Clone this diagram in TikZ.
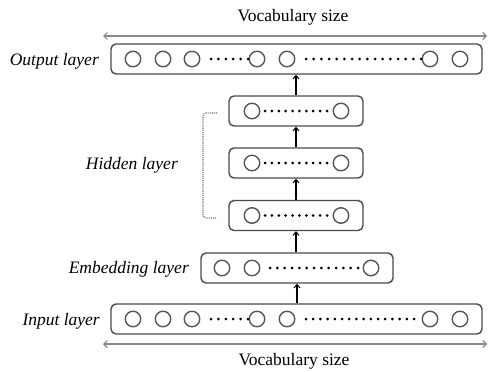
\documentclass[tikz,border=0pt]{standalone}
\usepackage{fontspec}
\setmainfont{Liberation Serif}
\usetikzlibrary{arrows.meta}
\definecolor{boxc}{HTML}{4A4A4A}
\definecolor{unitc}{HTML}{555555}
\definecolor{vocc}{HTML}{8A8A8A}
\definecolor{brc}{HTML}{707070}
\tikzset{
  layerbox/.style={draw=boxc, line width=1.4pt, rounded corners=5pt, inner sep=0pt, minimum height=30pt},
  unit/.style={draw=unitc, line width=1.4pt, circle, inner sep=0pt, minimum size=15.5pt},
  lab/.style={font=\fontsize{17.5}{20}\selectfont\itshape, anchor=east, inner sep=0pt},
  voclab/.style={font=\fontsize{17.5}{20}\selectfont, inner sep=0pt},
  arr/.style={draw=black, line width=1.1pt, -{Straight Barb[length=3.5pt,width=6pt,line width=1pt]}},
  vocarr/.style={draw=vocc, line width=1.2pt, {Straight Barb[length=3.5pt,width=7pt]}-{Straight Barb[length=3.5pt,width=7pt]}},
  brack/.style={draw=brc, line width=1.1pt, densely dotted},
}
\newcommand{\dotrow}[4]{% y, x start, x end, count
  \foreach \k in {1,...,#4}{
    \fill ({#2+(#3-#2)*(\k-1)/(#4-1)},#1) circle[radius=1.5pt];
  }}
\begin{document}
\begin{tikzpicture}[x=1pt,y=-1pt]
\useasboundingbox (0,0) rectangle (488,372);

% boxes
\node[layerbox, minimum width=371pt] (out) at (296.5,59) {};
\node[layerbox, minimum width=134pt] (h3) at (296,111) {};
\node[layerbox, minimum width=134pt] (h2) at (296,163) {};
\node[layerbox, minimum width=134pt] (h1) at (296,215.5) {};
\node[layerbox, minimum width=192pt] (emb) at (297,268) {};
\node[layerbox, minimum width=371pt] (inp) at (296.5,319) {};

% output and input units
\foreach \x/\n in {133/1,163/2,192/3,257/4,287/5,430/6,460/7}{
  \node[unit] (o\n) at (\x,59) {};
  \node[unit] (i\n) at (\x,319) {};
}
\dotrow{59}{211}{248}{6}
\dotrow{59}{306}{421}{16}
\dotrow{319}{211}{248}{6}
\dotrow{319}{306}{414}{16}

% hidden units
\foreach \y/\n in {111/3,163/2,215.5/1}{
  \node[unit] (h\n a) at (252,\y) {};
  \node[unit] (h\n b) at (341,\y) {};
  \dotrow{\y}{265}{327}{10}
}

% embedding units
\node[unit] (e1) at (222,268) {};
\node[unit] (e2) at (252,268) {};
\node[unit] (e3) at (371,268) {};
\dotrow{268}{270}{358}{13}

% connectors
\draw[arr] (inp.north -| emb.south) -- (emb.south);
\draw[arr] (emb.north -| h1.south) -- (h1.south);
\draw[arr] (h1.north) -- (h2.south);
\draw[arr] (h2.north) -- (h3.south);
\draw[arr] (h3.north) -- (h3.north |- out.south);

% labels
\node[lab] (lo) at (99,61) {Output layer};
\node[lab] (lh) at (178,165) {Hidden layer};
\node[lab] (le) at (189,269) {Embedding layer};
\node[lab] (li) at (100,321) {Input layer};

% hidden bracket
\coordinate (bt) at (217,113);
\coordinate (bb) at (217,218);
\draw[brack, rounded corners=3pt] (bt) -- (203,113) -- (203,218) -- (bb);

% vocabulary size
\coordinate (vtl) at (103,36);
\coordinate (vtr) at (487,36);
\coordinate (vbl) at (103,344);
\coordinate (vbr) at (487,344);
\draw[vocarr] (vtl) -- (vtr);
\draw[vocarr] (vbl) -- (vbr);
\node[voclab] (vt) at (293,17) {Vocabulary size};
\node[voclab] (vb) at (294,361) {Vocabulary size};
\end{tikzpicture}
\end{document}
